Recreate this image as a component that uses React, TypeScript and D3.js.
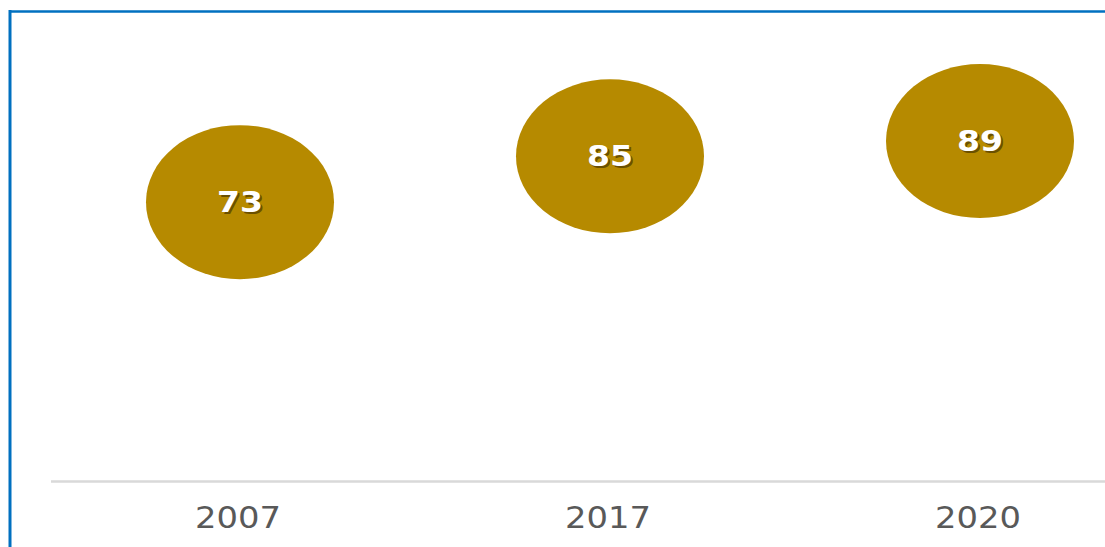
import React from "react";
import * as d3 from "d3";

const categories: string[] = ["2007", "2017", "2020"];
const values: number[] = [73, 85, 89];

const W = 1105;
const H = 547;

export default function App() {
  const x = d3.scaleBand<string>().domain(categories).range([55, 1165]).padding(0);
  const y = d3.scaleLinear().domain([0, 100]).range([481, 99]);
  const rx = 94;
  const ry = 77;
  const fill = "#B68A00";

  return (
    <div style={{ position: "absolute", left: 0, top: 0, width: W, height: H, background: "#fff" }}>
      <svg width={W} height={H} style={{ display: "block" }}>
        <rect x={0} y={0} width={W} height={H} fill="#ffffff" />
        {/* frame */}
        <line x1={10} y1={11.5} x2={W + 5} y2={11.5} stroke="#0070C0" strokeWidth={2.5} />
        <line x1={10} y1={10} x2={10} y2={H + 5} stroke="#0070C0" strokeWidth={3} />
        {/* axis line */}
        <line x1={51} y1={481.5} x2={W + 5} y2={481.5} stroke="#D9D9D9" strokeWidth={2.5} />
        {categories.map((c, i) => {
          const cx = (x(c) as number) + x.bandwidth() / 2;
          const cy = y(values[i]);
          return (
            <g key={c}>
              <ellipse cx={cx} cy={cy} rx={rx} ry={ry} fill={fill} />
              <text
                x={cx + 2}
                y={cy + 2}
                textAnchor="middle"
                dominantBaseline="central"
                fontFamily="DejaVu Sans"
                fontWeight="bold"
                fontSize={29}
                textLength={46}
                lengthAdjust="spacingAndGlyphs"
                fill="#6B5000"
              >
                {values[i]}
              </text>
              <text
                x={cx}
                y={cy}
                textAnchor="middle"
                dominantBaseline="central"
                fontFamily="DejaVu Sans"
                fontWeight="bold"
                fontSize={29}
                textLength={46}
                lengthAdjust="spacingAndGlyphs"
                fill="#ffffff"
              >
                {values[i]}
              </text>
              <text
                x={cx - 2}
                y={528}
                textAnchor="middle"
                fontFamily="DejaVu Sans"
                fontSize={30}
                textLength={86}
                lengthAdjust="spacingAndGlyphs"
                fill="#595959"
              >
                {c}
              </text>
            </g>
          );
        })}
      </svg>
    </div>
  );
}
